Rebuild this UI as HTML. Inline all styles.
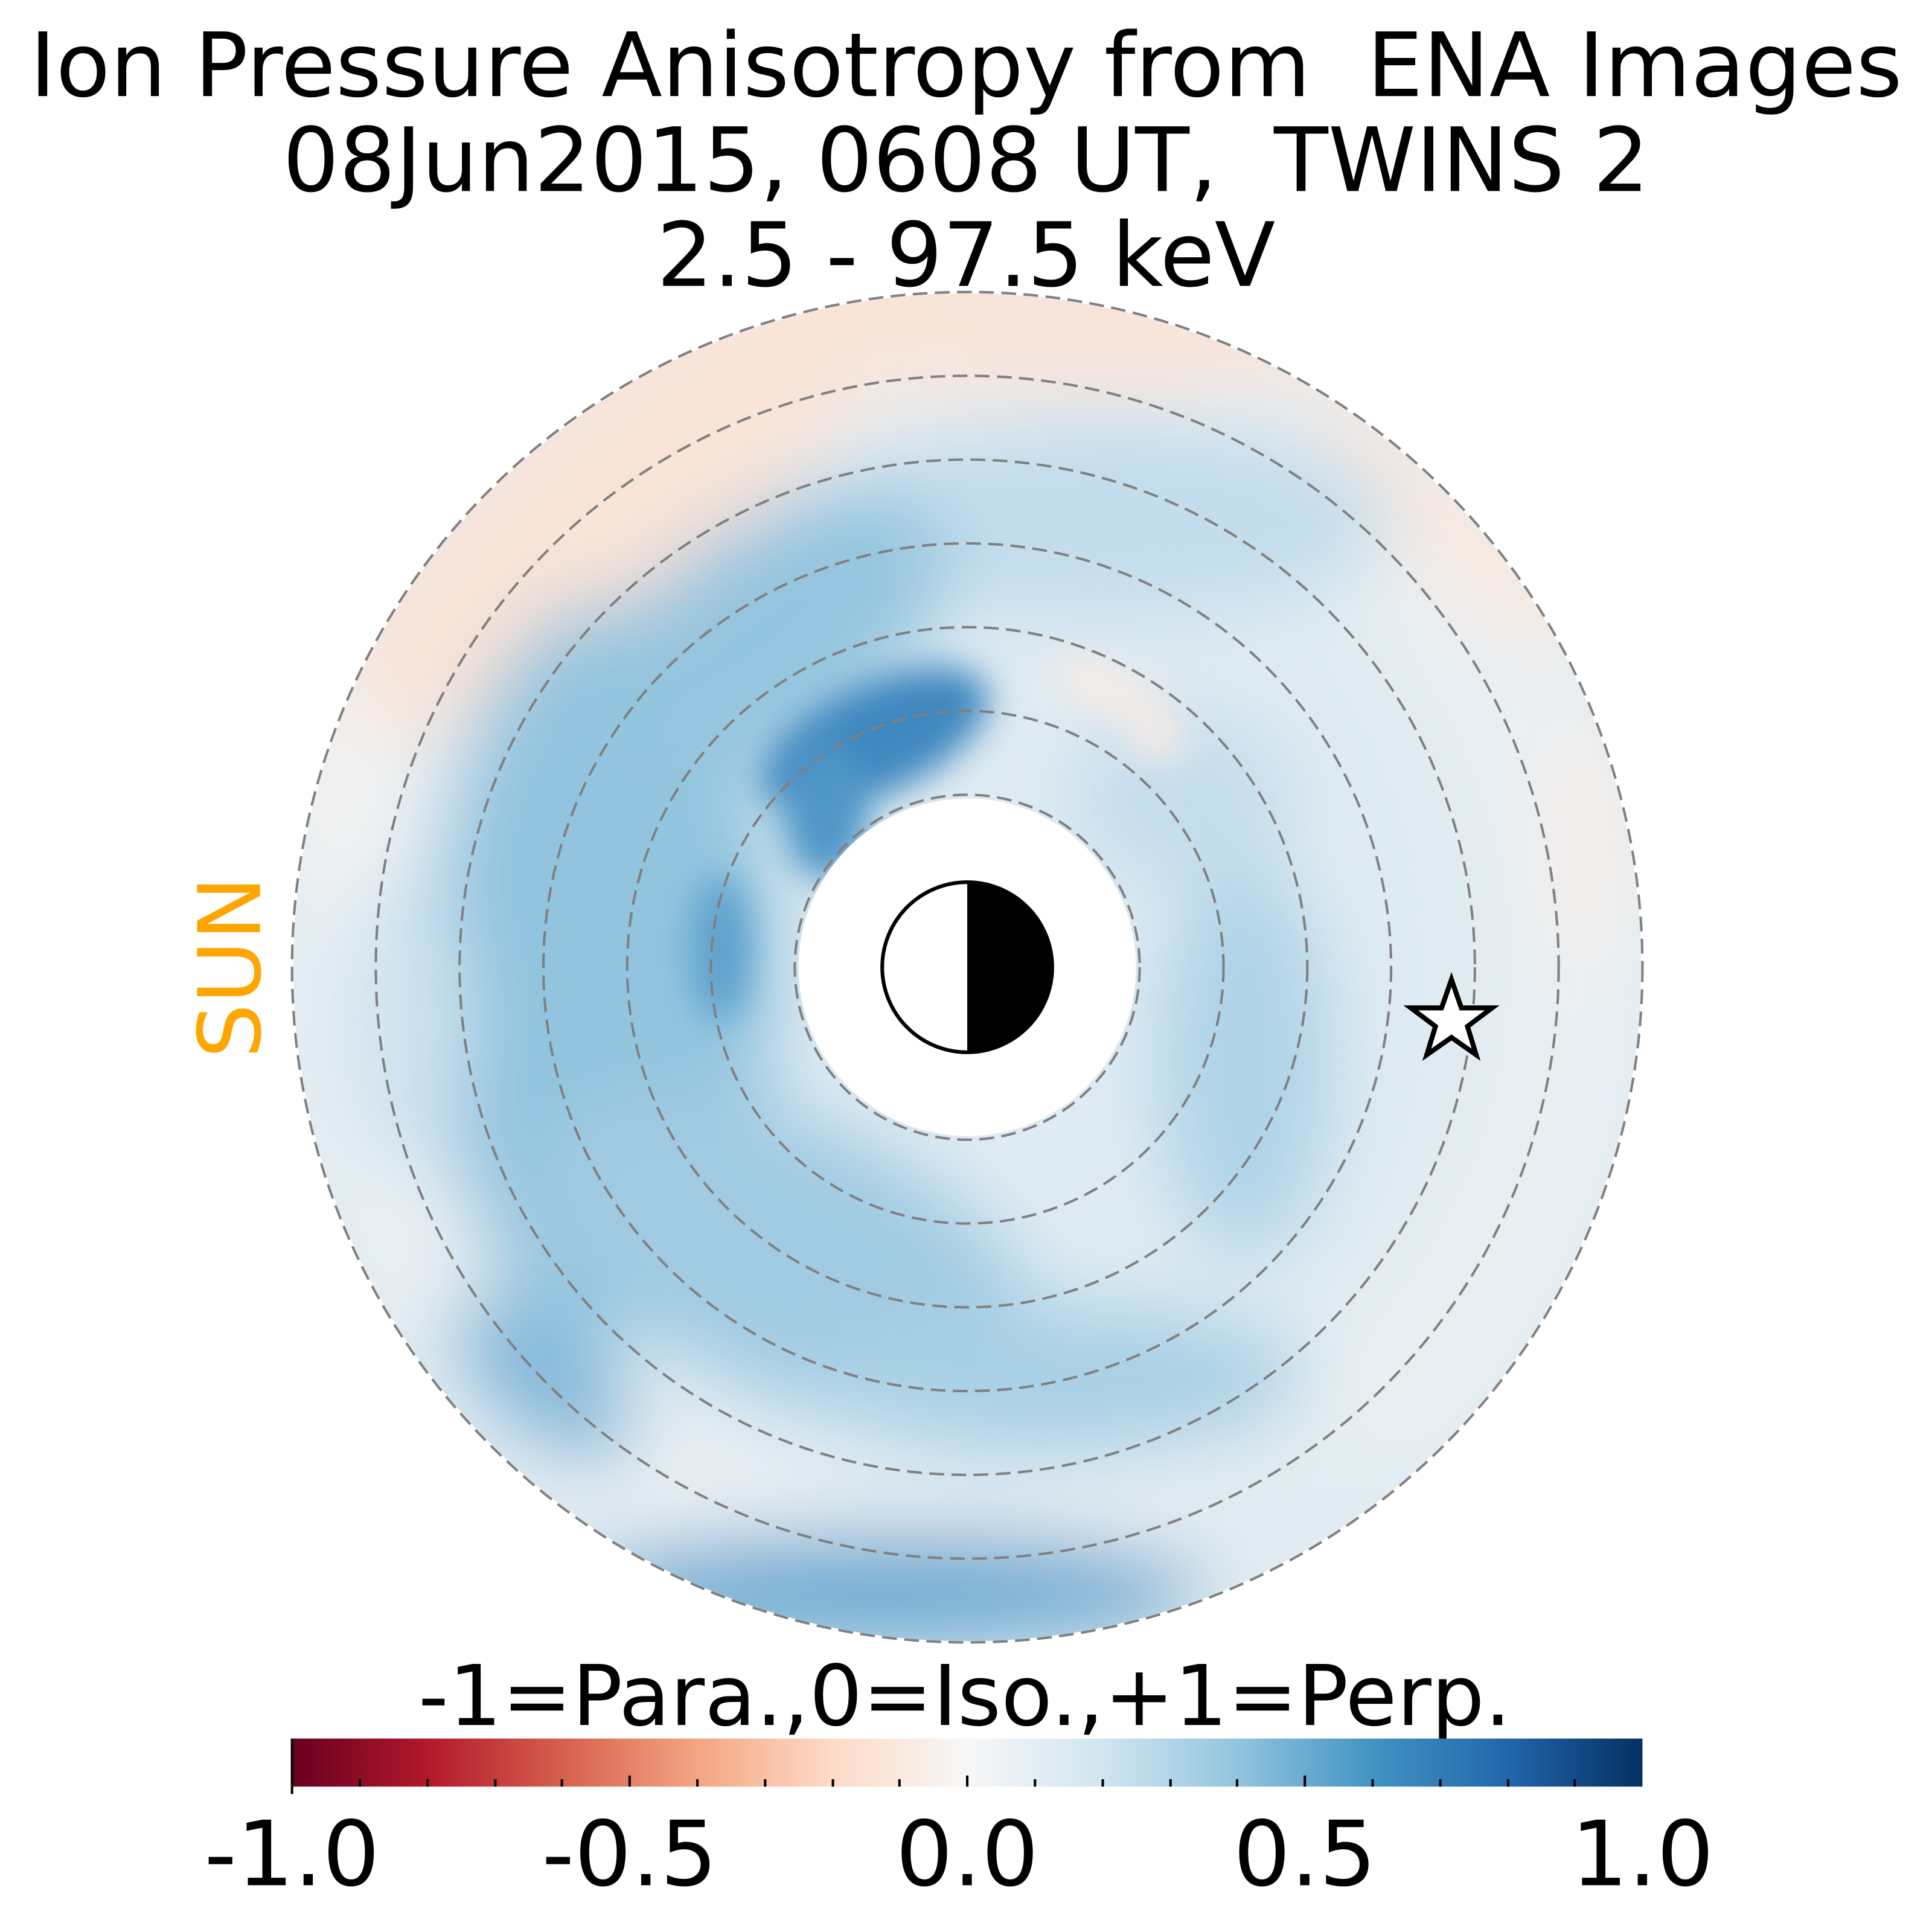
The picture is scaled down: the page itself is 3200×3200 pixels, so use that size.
<!DOCTYPE html>
<html><head><meta charset="utf-8"><style>
html,body{margin:0;padding:0;background:#fff;}
svg{display:block;}
</style></head><body>
<svg width="3200" height="3200" viewBox="0 0 1568 1568" xmlns="http://www.w3.org/2000/svg">
<defs>
<filter id="b" x="-30%" y="-30%" width="160%" height="160%"><feGaussianBlur stdDeviation="30"/></filter>
<filter id="b2" x="-30%" y="-30%" width="160%" height="160%"><feGaussianBlur stdDeviation="14"/></filter>
<mask id="m"><rect width="1568" height="1568" fill="#000"/><circle cx="785" cy="785" r="547" fill="#fff"/><circle cx="785" cy="785" r="137" fill="#000"/></mask>
<linearGradient id="cb" x1="0" x2="1" y1="0" y2="0">
<stop offset="0" stop-color="#67001f"/><stop offset="0.1" stop-color="#b2182b"/><stop offset="0.2" stop-color="#d6604d"/><stop offset="0.3" stop-color="#f4a582"/><stop offset="0.4" stop-color="#fddbc7"/><stop offset="0.5" stop-color="#f7f7f7"/><stop offset="0.6" stop-color="#d1e5f0"/><stop offset="0.7" stop-color="#92c5de"/><stop offset="0.8" stop-color="#4393c3"/><stop offset="0.9" stop-color="#2166ac"/><stop offset="1" stop-color="#053061"/>
</linearGradient>
</defs>
<g font-family="DejaVu Sans, Liberation Sans, sans-serif" fill="#000" text-anchor="middle" font-size="72">
<text x="784" y="78">Ion Pressure Anisotropy from&#160; ENA Images</text>
<text x="784" y="155">08Jun2015, 0608 UT,&#160; TWINS 2</text>
<text x="784" y="232">2.5 - 97.5 keV</text>
</g>
<g mask="url(#m)">
<rect width="1568" height="1568" fill="#dfebf2"/>
<g filter="url(#b)">
<circle cx="785" cy="785" r="490" fill="none" stroke="#e8eff3" stroke-width="120"/>
<ellipse cx="520" cy="380" rx="330" ry="90" fill="#f9e4d8" transform="rotate(-40 520 380)"/>
<ellipse cx="850" cy="265" rx="280" ry="55" fill="#f9e4d8"/>
<ellipse cx="1180" cy="420" rx="150" ry="50" fill="#f7e9e1" transform="rotate(45 1180 420)"/>
<ellipse cx="1290" cy="680" rx="40" ry="110" fill="#f5eeea"/>
<ellipse cx="270" cy="640" rx="40" ry="90" fill="#f3f2f1"/>
<ellipse cx="900" cy="420" rx="230" ry="80" fill="#c3ddec"/>
<ellipse cx="490" cy="790" rx="140" ry="300" fill="#92c4df"/>
<ellipse cx="620" cy="520" rx="170" ry="90" fill="#94c5df" transform="rotate(-35 620 520)"/>
<ellipse cx="640" cy="1020" rx="220" ry="110" fill="#a0cbe2" transform="rotate(25 640 1020)"/>
<ellipse cx="860" cy="1120" rx="200" ry="60" fill="#a9d0e5"/>
<ellipse cx="1010" cy="860" rx="70" ry="160" fill="#afd3e7"/>
<ellipse cx="960" cy="650" rx="90" ry="70" fill="#c4ddec"/>
<ellipse cx="720" cy="1290" rx="260" ry="45" fill="#6eabd2"/>
<ellipse cx="440" cy="1120" rx="90" ry="45" fill="#80b8d9" transform="rotate(40 440 1120)"/>
<ellipse cx="330" cy="830" rx="50" ry="120" fill="#cfe3ef"/>
<ellipse cx="1080" cy="1230" rx="140" ry="60" fill="#e1ecf2"/>
</g>
<g filter="url(#b2)">
<ellipse cx="710" cy="600" rx="100" ry="45" fill="#4088c0" transform="rotate(-25 710 600)"/>
<ellipse cx="670" cy="660" rx="35" ry="55" fill="#4f96c7"/>
<ellipse cx="585" cy="770" rx="25" ry="60" fill="#5ea2cd"/>
<ellipse cx="900" cy="560" rx="50" ry="18" fill="#f6ebe5" transform="rotate(25 900 560)"/>
<ellipse cx="940" cy="600" rx="22" ry="18" fill="#f4ebe6"/>
</g>
</g>
<g fill="none" stroke="#808080" stroke-width="2" stroke-dasharray="12 6">
<circle cx="785" cy="785" r="548"/><circle cx="785" cy="785" r="480"/><circle cx="785" cy="785" r="412"/><circle cx="785" cy="785" r="344"/><circle cx="785" cy="785" r="276"/><circle cx="785" cy="785" r="208"/><circle cx="785" cy="785" r="140"/>
</g>
<path d="M785 716 A69 69 0 0 1 785 854 Z" fill="#000"/>
<circle cx="785" cy="785" r="69" fill="none" stroke="#000" stroke-width="3"/>
<polygon points="1178,795 1186,818 1211,818 1191,833 1198,856 1178,842 1158,856 1165,833 1145,818 1170,818" fill="#fff" stroke="#000" stroke-width="4"/>
<text x="0" y="0" transform="translate(211 785) rotate(-90)" text-anchor="middle" font-family="DejaVu Sans, Liberation Sans, sans-serif" font-size="70" fill="#ffa500">SUN</text>
<text x="783" y="1400" text-anchor="middle" font-family="DejaVu Sans, Liberation Sans, sans-serif" font-size="68">-1=Para.,0=Iso.,+1=Perp.</text>
<rect x="237" y="1411" width="1096" height="39" fill="url(#cb)"/>
<g stroke="#000" stroke-width="2">
<line x1="237" y1="1411" x2="237" y2="1456"/>
<line x1="292" y1="1450" x2="292" y2="1444"/><line x1="347" y1="1450" x2="347" y2="1444"/><line x1="402" y1="1450" x2="402" y2="1444"/><line x1="456" y1="1450" x2="456" y2="1444"/>
<line x1="511" y1="1450" x2="511" y2="1441"/>
<line x1="566" y1="1450" x2="566" y2="1444"/><line x1="621" y1="1450" x2="621" y2="1444"/><line x1="676" y1="1450" x2="676" y2="1444"/><line x1="730" y1="1450" x2="730" y2="1444"/>
<line x1="785" y1="1450" x2="785" y2="1441"/>
<line x1="840" y1="1450" x2="840" y2="1444"/><line x1="895" y1="1450" x2="895" y2="1444"/><line x1="950" y1="1450" x2="950" y2="1444"/><line x1="1004" y1="1450" x2="1004" y2="1444"/>
<line x1="1059" y1="1450" x2="1059" y2="1441"/>
<line x1="1114" y1="1450" x2="1114" y2="1444"/><line x1="1169" y1="1450" x2="1169" y2="1444"/><line x1="1224" y1="1450" x2="1224" y2="1444"/><line x1="1278" y1="1450" x2="1278" y2="1444"/>
</g>
<g font-family="DejaVu Sans, Liberation Sans, sans-serif" font-size="73" text-anchor="middle">
<text x="237" y="1530">-1.0</text><text x="511" y="1530">-0.5</text><text x="785" y="1530">0.0</text><text x="1059" y="1530">0.5</text><text x="1333" y="1530">1.0</text>
</g>
</svg>
</body></html>
